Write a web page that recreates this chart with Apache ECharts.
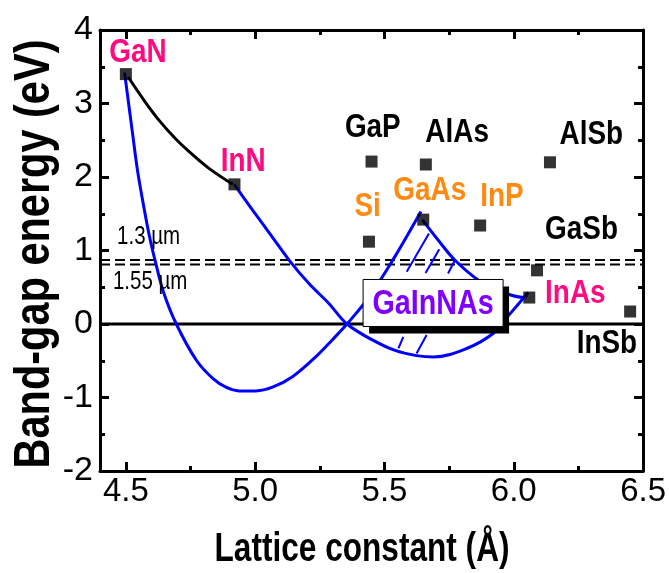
<!DOCTYPE html>
<html>
<head>
<meta charset="utf-8">
<script src="https://cdn.jsdelivr.net/npm/echarts@6/dist/echarts.min.js"></script>
<style>
html,body{margin:0;padding:0;background:#fff;}
#chart{width:669px;height:573px;}
</style>
</head>
<body>
<div id="chart"></div>
<script>
// ---- data ----
const compounds = ['GaN','InN','GaP','AlAs','AlSb','Si','GaAs','InP','GaSb','InAs','InSb'];
const latticeA  = [4.50, 4.92, 5.45, 5.66, 6.14, 5.44, 5.65, 5.87, 6.09, 6.06, 6.45];
const bandGap   = [3.40, 1.90, 2.21, 2.17, 2.20, 1.12, 1.42, 1.34, 0.73, 0.36, 0.17];
// label anchors (data units)
const labelA    = [4.547, 4.954, 5.455, 5.781, 6.300, 5.435, 5.675, 5.954, 6.262, 6.238, 6.360];
const labelEg   = [3.694, 2.215, 2.670, 2.610, 2.580, 1.593, 1.820, 1.730, 1.290, 0.415, -0.265];

// GaN-InN black bowing curve
const ganInnCurve = [[4.509,3.36],[4.573,3.03],[4.631,2.76],[4.695,2.51],[4.759,2.30],[4.824,2.11],[4.913,1.90]];
// blue curves
const blueCurveGaN = [[4.495,3.42],[4.526,2.59],[4.545,2.09],[4.567,1.64],[4.592,1.18],[4.614,0.85],[4.645,0.44],
  [4.695,0.0],[4.772,-0.49],[4.836,-0.74],[4.887,-0.86],[4.938,-0.91],[5.003,-0.91],[5.067,-0.86],[5.143,-0.72],
  [5.233,-0.45],[5.297,-0.22],[5.355,0.0],[5.443,0.38],[5.541,0.92],[5.641,1.53]];
const blueCurveInN = [[4.919,1.90],[4.99,1.55],[5.067,1.18],[5.131,0.87],[5.208,0.55],[5.285,0.28],[5.355,0.0],
  [5.455,-0.22],[5.541,-0.36],[5.624,-0.43],[5.69,-0.45],[5.82,-0.33],[5.92,-0.13],[5.976,0.10],[6.056,0.43]];
const blueCurveGaAs = [[5.646,1.42],[5.708,1.14],[5.772,0.87],[5.862,0.60],[5.951,0.44],[6.041,0.36],[6.05,0.39]];
// hatch segments
const hatchSegments = [
  [[5.586,0.71],[5.672,1.23]],
  [[5.659,0.695],[5.712,1.017]],
  [[5.746,0.687],[5.772,0.868]],
  [[5.554,-0.33],[5.573,-0.175]],
  [[5.624,-0.40],[5.663,-0.15]]
];
// telecom wavelength lines
const wlEnergy = [0.87, 0.81];
const wlLabels = ['1.3 µm', '1.55 µm'];
const wlLabelA = [4.588, 4.594];
const wlLabelEg = [1.185, 0.573];
// alloy box
const alloyName = 'GaInNAs';
const alloyPos = [5.688, 0.286];

// axes
const xMin = 4.4, xMax = 6.5, yMin = -2, yMax = 4;
const xTicks = [4.5, 5.0, 5.5, 6.0, 6.5];
const xMinorTicks = [4.75, 5.25, 5.75, 6.25];
const yTicks = [-2, -1, 0, 1, 2, 3, 4];
const yMinorTicks = [-1.5, -0.5, 0.5, 1.5, 2.5, 3.5];
const xTitle = 'Lattice constant (Å)';
const yTitle = 'Band-gap energy (eV)';

// ---- styling ----
const FONT = '"Liberation Sans", Arial, sans-serif';
const NARROW = 0.82;
const PINK = '#ff0a80', ORANGE = '#ff8a12', BLUE = '#0000ff';
const colorOf = {GaN:PINK, InN:PINK, InAs:PINK, Si:ORANGE, GaAs:ORANGE, InP:ORANGE};

function xAxisDef(pos, ticks, len, showLine, showLabel) {
  return {
    type:'value', min:xMin, max:xMax, position:pos, gridIndex:0,
    axisLine:{show:showLine, onZero:false, lineStyle:{color:'#000', width:3}},
    axisTick:{show:true, inside:true, length:len, customValues:ticks, lineStyle:{color:'#000', width:3}},
    axisLabel:{show:showLabel, customValues:ticks, formatter:v=>v.toFixed(1), color:'#000',
      fontSize:33, fontFamily:FONT, margin:4},
    splitLine:{show:false}
  };
}
function yAxisDef(pos, ticks, len, showLine, showLabel) {
  return {
    type:'value', min:yMin, max:yMax, position:pos, gridIndex:0,
    axisLine:{show:showLine, onZero:false, lineStyle:{color:'#000', width:3}},
    axisTick:{show:true, inside:true, length:len, customValues:ticks, lineStyle:{color:'#000', width:3}},
    axisLabel:{show:showLabel, customValues:ticks, formatter:v=>String(v), color:'#000',
      fontSize:34, fontFamily:FONT, margin:7},
    splitLine:{show:false}
  };
}

const lineBase = {type:'line', xAxisIndex:0, yAxisIndex:0, symbol:'none', showSymbol:false, silent:true, animation:false};

function textSeries(xs, ys, texts, styleFn, z) {
  return {
    type:'custom', xAxisIndex:0, yAxisIndex:0, silent:true, animation:false, clip:false, z:z,
    data: xs.map((x,i)=>[x, ys[i]]),
    renderItem:function(params, api){
      const p = api.coord([api.value(0), api.value(1)]);
      const i = params.dataIndex;
      const st = styleFn(texts[i]);
      return {type:'text', x:p[0], y:p[1], scaleX:NARROW,
        style:{text:texts[i], fill:st.color, fontSize:st.size, fontWeight:st.weight, fontFamily:FONT,
          align:'center', verticalAlign:'middle'}};
    }
  };
}

const series = [];
// zero line
series.push(Object.assign({}, lineBase, {data:[[xMin,0],[xMax,0]], lineStyle:{color:'#000', width:3}, z:2}));
// wavelength dashed lines
wlEnergy.forEach(e => series.push(Object.assign({}, lineBase, {data:[[xMin,e],[xMax,e]],
  lineStyle:{color:'#000', width:2, type:[10,5]}, z:2})));
// curves
series.push(Object.assign({}, lineBase, {data:ganInnCurve, smooth:0.35, lineStyle:{color:'#000', width:3}, z:3}));
[blueCurveGaN, blueCurveInN, blueCurveGaAs].forEach(c => series.push(Object.assign({}, lineBase,
  {data:c, smooth:0.35, lineStyle:{color:BLUE, width:3}, z:3})));
hatchSegments.forEach(s => series.push(Object.assign({}, lineBase, {data:s, lineStyle:{color:BLUE, width:2}, z:3})));
// compound points
series.push({type:'scatter', xAxisIndex:0, yAxisIndex:0, symbol:'rect', symbolSize:12, silent:true, animation:false,
  itemStyle:{color:'#000'}, z:4, data:compounds.map((n,i)=>[latticeA[i], bandGap[i]])});
// compound labels
series.push(textSeries(labelA, labelEg, compounds, n=>({color:colorOf[n]||'#000', size:34, weight:'bold'}), 6));
// wavelength labels
series.push(textSeries(wlLabelA, wlLabelEg, wlLabels, n=>({color:'#000', size:25, weight:'normal'}), 6));
// alloy box
series.push({type:'custom', xAxisIndex:0, yAxisIndex:0, silent:true, animation:false, clip:false, z:10,
  data:[alloyPos],
  renderItem:function(params, api){
    const p = api.coord([api.value(0), api.value(1)]);
    const w = 140, h = 47;
    return {type:'group', children:[
      {type:'rect', shape:{x:p[0]-w/2+6, y:p[1]-h/2+7, width:w, height:h}, style:{fill:'#000'}},
      {type:'rect', shape:{x:p[0]-w/2, y:p[1]-h/2, width:w, height:h}, style:{fill:'#fff', stroke:'#000', lineWidth:1}},
      {type:'text', x:p[0], y:p[1]+1, scaleX:NARROW,
        style:{text:alloyName, fill:'#8000ff', fontSize:35, fontWeight:'bold', fontFamily:FONT, align:'center', verticalAlign:'middle'}}
    ]};
  }});

const chart = echarts.init(document.getElementById('chart'), null, {renderer:'canvas'});
chart.setOption({
  backgroundColor:'#fff',
  animation:false,
  grid:{left:100, right:23, top:30, bottom:102, containLabel:false},
  xAxis:[
    xAxisDef('bottom', xTicks, 9, true, true),
    xAxisDef('bottom', xMinorTicks, 5, false, false),
    xAxisDef('top', xTicks, 9, true, false),
    xAxisDef('top', xMinorTicks, 5, false, false)
  ],
  yAxis:[
    yAxisDef('left', yTicks, 9, true, true),
    yAxisDef('left', yMinorTicks, 5, false, false),
    yAxisDef('right', yTicks, 9, true, false),
    yAxisDef('right', yMinorTicks, 5, false, false)
  ],
  graphic:[
    {type:'text', x:362, y:550, scaleX:0.79, silent:true,
      style:{text:xTitle, fontSize:40, fontWeight:'bold', fontFamily:FONT, align:'center', verticalAlign:'middle', fill:'#000'}},
    {type:'text', x:35, y:254, rotation:Math.PI/2, scaleX:0.83, silent:true,
      style:{text:yTitle, fontSize:50, fontWeight:'bold', fontFamily:FONT, align:'center', verticalAlign:'middle', fill:'#000'}}
  ],
  series:series
});
</script>
</body>
</html>
